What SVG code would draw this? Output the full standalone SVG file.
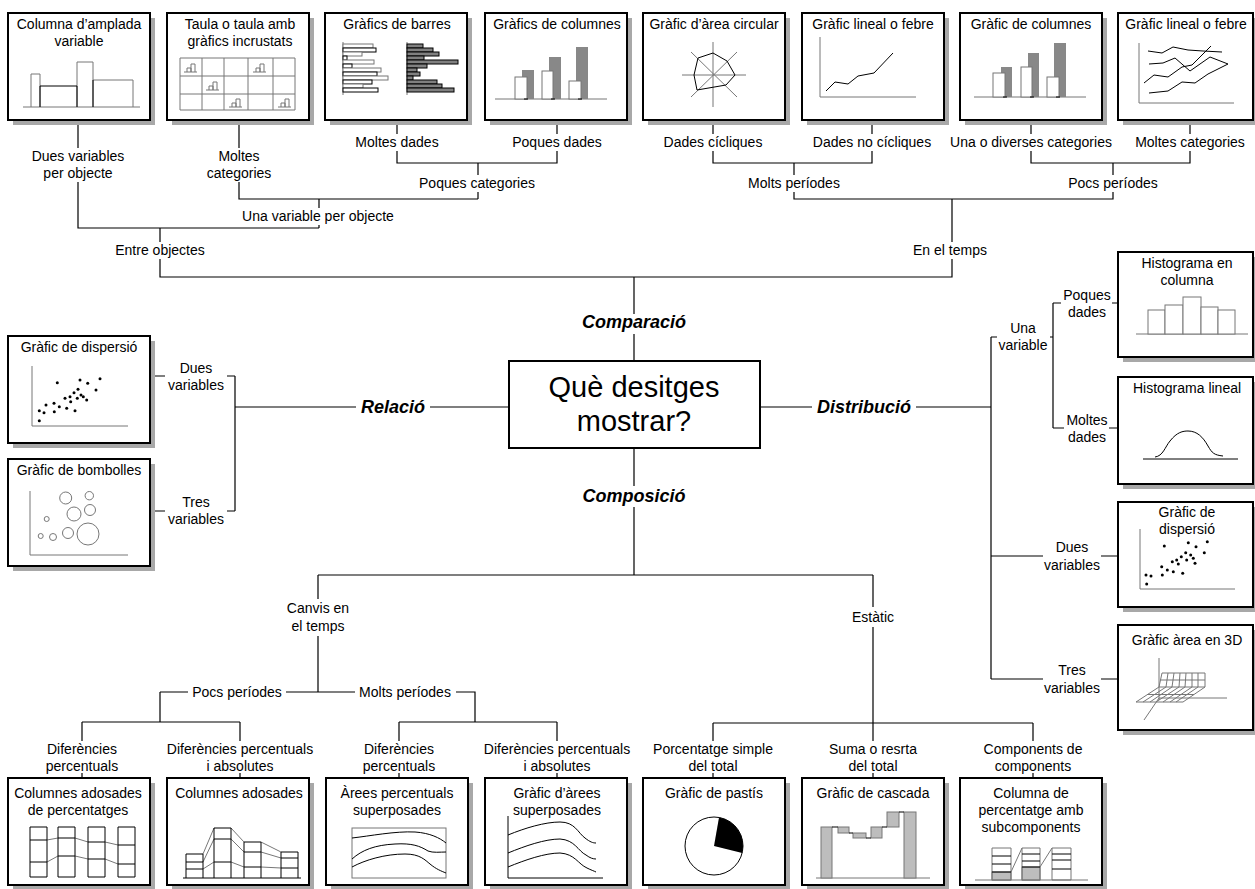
<svg xmlns="http://www.w3.org/2000/svg" width="1255" height="889" viewBox="0 0 1255 889">
<style>
text{font-family:"Liberation Sans",Arial,Helvetica,sans-serif;font-size:14px;text-anchor:middle;fill:#000}
.bi{font-weight:bold;font-style:italic;font-size:18px}
.big{font-size:29px}
.sh{fill:#a8a8a8}
.bx{fill:#fff;stroke:#000;stroke-width:2}
.c{fill:none;stroke:#000;stroke-width:1.2}
.g{fill:none;stroke:#777;stroke-width:1}
.gw{fill:#fff;stroke:#777;stroke-width:1}
.k{fill:none;stroke:#000;stroke-width:1}
.kw{fill:#fff;stroke:#000;stroke-width:1}
.dk{fill:#808080;stroke:#000;stroke-width:1}
.lg{fill:#bdbdbd;stroke:#777;stroke-width:1}
.dot{fill:#000}
</style>
<defs>
<g id="mini"><path class="g" d="M0,9 H13 M3,9 V5 H7 V9 M7,9 V1 H11 V9"/></g>
</defs>
<rect width="1255" height="889" fill="#fff"/>

<g id="connectors" class="c">
<path d="M78,121 V148 M78,182 V228 H319 M319,199 V208 M319,225 V228"/>
<path d="M239,121 V148 M239,182 V199 H478"/>
<path d="M397,121 V134 M397,151 V163 H557 V151 M557,134 V121"/>
<path d="M478,163 V175 M478,192 V199"/>
<path d="M160,228 V242 M160,259 V277 H952 V259 M952,242 V199"/>
<path d="M713,121 V134 M713,151 V163 H872 V151 M872,134 V121"/>
<path d="M794,163 V175 M794,192 V199 H1113 V192 M1113,175 V163"/>
<path d="M1031,121 V134 M1031,151 V163 H1190 V151 M1190,134 V121"/>
<path d="M634,277 V314 M634,334 V361"/>
<path d="M634,448 V486 M634,507 V575 M318,575 H873"/>
<path d="M509,407 H430 M356,407 H235 M235,376 V511 M151,376 H165 M227,376 H235 M151,511 H165 M227,511 H235"/>
<path d="M760,407 H812 M916,407 H991 M991,337 V679 M991,337 H997 M1050,337 H1053 M1053,303 V428 M1053,303 H1061 M1112,303 H1118 M1053,428 H1064 M1109,428 H1118 M991,556 H1043 M1101,556 H1118 M991,679 H1043 M1101,679 H1118"/>
<path d="M318,575 V599 M318,636 V692 M160,692 H188 M286,692 H355 M456,692 H475 V722 M160,692 V722 M82,722 H240 M399,722 H557"/>
<path d="M82,722 V741 M82,773 V778 M240,722 V741 M240,773 V778 M399,722 V741 M399,773 V778 M557,722 V741 M557,773 V778"/>
<path d="M873,575 V607 M873,627 V741 M873,773 V778 M713,723 H1033 M713,723 V741 M713,773 V778 M1033,723 V741 M1033,773 V778"/>
</g>

<g id="labels">
<text x="78" y="161">Dues variables</text><text x="78" y="178">per objecte</text>
<text x="239" y="161">Moltes</text><text x="239" y="178">categories</text>
<text x="397" y="147">Moltes dades</text>
<text x="557" y="147">Poques dades</text>
<text x="477" y="188">Poques categories</text>
<text x="318" y="221">Una variable per objecte</text>
<text x="160" y="255">Entre objectes</text>
<text x="713" y="147">Dades cícliques</text>
<text x="872" y="147">Dades no cícliques</text>
<text x="794" y="188">Molts períodes</text>
<text x="1031" y="147">Una o diverses categories</text>
<text x="1190" y="147">Moltes categories</text>
<text x="1113" y="188">Pocs períodes</text>
<text x="950" y="255">En el temps</text>
<text class="bi" x="634" y="328">Comparació</text>
<text class="bi" x="634" y="502">Composició</text>
<text class="bi" x="393" y="413">Relació</text>
<text class="bi" x="864" y="413">Distribució</text>
<text x="196" y="373">Dues</text><text x="196" y="390">variables</text>
<text x="196" y="507">Tres</text><text x="196" y="524">variables</text>
<text x="1023" y="333">Una</text><text x="1023" y="350">variable</text>
<text x="1087" y="300">Poques</text><text x="1087" y="317">dades</text>
<text x="1087" y="425">Moltes</text><text x="1087" y="442">dades</text>
<text x="1072" y="552">Dues</text><text x="1072" y="570">variables</text>
<text x="1072" y="675">Tres</text><text x="1072" y="693">variables</text>
<text x="318" y="613">Canvis en</text><text x="318" y="631">el temps</text>
<text x="873" y="622">Estàtic</text>
<text x="237" y="697">Pocs períodes</text>
<text x="405" y="697">Molts períodes</text>
<text x="82" y="754">Diferències</text><text x="82" y="771">percentuals</text>
<text x="240" y="754">Diferències percentuals</text><text x="240" y="771">i absolutes</text>
<text x="399" y="754">Diferències</text><text x="399" y="771">percentuals</text>
<text x="557" y="754">Diferències percentuals</text><text x="557" y="771">i absolutes</text>
<text x="713" y="754">Porcentatge simple</text><text x="713" y="771">del total</text>
<text x="873" y="754">Suma o resrta</text><text x="873" y="771">del total</text>
<text x="1033" y="754">Components de</text><text x="1033" y="771">components</text>
</g>

<g id="center">
<rect class="bx" x="509" y="361" width="251" height="87"/>
<text class="big" x="634" y="397">Què desitges</text>
<text class="big" x="634" y="431">mostrar?</text>
</g>

<g id="columna-amplada">
<rect class="sh" x="13" y="18" width="142" height="107"/><rect class="bx" x="8" y="13" width="142" height="107"/>
<text x="79" y="29">Columna d’amplada</text><text x="79" y="46">variable</text>
<path class="g" d="M23,107 H140 M31,107 V74 H40 V107 M77,107 V62 H93 V107 M93,80 H133 V107"/>
<path class="k" d="M40,86 H77 M40,86 V107 M77,86 V107 M93,80 V107"/>
</g>
<g id="taula">
<rect class="sh" x="172" y="18" width="142" height="107"/><rect class="bx" x="167" y="13" width="142" height="107"/>
<text x="240" y="29">Taula o taula amb</text><text x="240" y="46">gràfics incrustats</text>
<path class="g" d="M180,58 H295 V110 H180 Z M180,76 H295 M180,94 H295 M202,58 V110 M224,58 V110 M248,58 V110 M273,58 V110"/>
<use href="#mini" x="184" y="63"/><use href="#mini" x="253" y="63"/><use href="#mini" x="206" y="81"/><use href="#mini" x="229" y="98"/><use href="#mini" x="278" y="98"/>
</g>
<g id="barres">
<rect class="sh" x="330" y="18" width="142" height="107"/><rect class="bx" x="325" y="13" width="142" height="107"/>
<text x="397" y="29">Gràfics de barres</text>
<path class="g" d="M343,42 V95 M407,42 V95"/>
<rect class="gw" x="343" y="44" width="30" height="4"/><rect class="kw" x="343" y="48" width="33" height="4"/>
<rect class="gw" x="343" y="52" width="19" height="4"/><rect class="kw" x="343" y="56" width="4" height="4"/>
<rect class="gw" x="343" y="60" width="31" height="4"/><rect class="kw" x="343" y="64" width="9" height="4"/>
<rect class="gw" x="343" y="68" width="38" height="4"/><rect class="kw" x="343" y="72" width="34" height="4"/>
<rect class="gw" x="343" y="76" width="45" height="4"/><rect class="kw" x="343" y="80" width="29" height="4"/>
<rect class="gw" x="343" y="84" width="20" height="4"/><rect class="kw" x="343" y="88" width="35" height="4"/>
<rect class="dk" x="407" y="44" width="16" height="4"/><rect class="dk" x="407" y="48" width="26" height="4"/>
<rect class="dk" x="407" y="52" width="32" height="4"/><rect class="dk" x="407" y="56" width="17" height="4"/>
<rect class="dk" x="407" y="60" width="51" height="4"/><rect class="dk" x="407" y="64" width="20" height="4"/>
<rect class="dk" x="407" y="68" width="10" height="4"/><rect class="dk" x="407" y="72" width="13" height="4"/>
<rect class="dk" x="407" y="76" width="6" height="4"/><rect class="dk" x="407" y="80" width="30" height="4"/>
<rect class="dk" x="407" y="84" width="35" height="4"/><rect class="dk" x="407" y="88" width="47" height="4"/>
</g>
<g id="columnes1">
<rect class="sh" x="490" y="18" width="142" height="107"/><rect class="bx" x="485" y="13" width="142" height="107"/>
<text x="557" y="29">Gràfics de columnes</text>
<path class="g" d="M495,99 H607"/>
<rect x="522" y="70" width="12" height="29" fill="#888"/><rect class="gw" x="515" y="77" width="12" height="22"/>
<rect x="549" y="57" width="12" height="42" fill="#888"/><rect class="gw" x="542" y="71" width="11" height="28"/>
<rect x="576" y="47" width="12" height="52" fill="#888"/><rect class="gw" x="569" y="81" width="12" height="18"/>
<path class="k" d="M524,99 H528 M551,99 H555 M578,99 H582"/>
</g>
<g id="area-circular">
<rect class="sh" x="648" y="18" width="142" height="107"/><rect class="bx" x="643" y="13" width="142" height="107"/>
<text x="714" y="29">Gràfic d’àrea circular</text>
<path class="g" d="M713,42 V107 M682,75 H746 M691,52 L737,97 M737,52 L691,97"/>
<path class="k" d="M713,53 L727,61 L735,75 L726,85 L697,90 L694,75 L698,58 Z"/>
</g>
<g id="lineal1">
<rect class="sh" x="807" y="18" width="142" height="107"/><rect class="bx" x="802" y="13" width="142" height="107"/>
<text x="873" y="29">Gràfic lineal o febre</text>
<path class="g" d="M820,37 V97 H916"/>
<path class="k" d="M826,91 L835,82 L848,84 L858,76 L874,73 L893,53"/>
</g>
<g id="columnes2">
<rect class="sh" x="965" y="18" width="142" height="107"/><rect class="bx" x="960" y="13" width="142" height="107"/>
<text x="1031" y="29">Gràfic de columnes</text>
<path class="g" d="M974,97 H1086"/>
<rect x="1001" y="67" width="11" height="30" fill="#888"/><rect class="gw" x="993" y="73" width="12" height="24"/>
<rect x="1028" y="53" width="11" height="44" fill="#888"/><rect class="gw" x="1021" y="67" width="11" height="30"/>
<rect x="1054" y="43" width="12" height="54" fill="#888"/><rect class="gw" x="1047" y="77" width="12" height="20"/>
<path class="k" d="M1003,97 H1007 M1030,97 H1034 M1056,97 H1060"/>
</g>
<g id="lineal2">
<rect class="sh" x="1123" y="18" width="135" height="107"/><rect class="bx" x="1118" y="13" width="135" height="107"/>
<text x="1186" y="29">Gràfic lineal o febre</text>
<path class="g" d="M1139,43 V103 H1234"/>
<path class="k" d="M1148,51 L1162,53 L1173,47 L1188,50 L1203,51 L1222,52 M1149,64 L1163,63 L1175,58 L1190,71 L1210,57 L1228,64 M1144,83 L1154,75 L1168,77 L1182,67 L1192,65 L1211,46 M1149,93 L1168,91 L1182,82 L1195,83 L1208,74 L1228,64"/>
</g>

<g id="dispersio1">
<rect class="sh" x="13" y="341" width="142" height="107"/><rect class="bx" x="8" y="336" width="142" height="107"/>
<text x="79" y="352">Gràfic de dispersió</text>
<path class="g" d="M32,366 V426 H128"/>
<g class="dot">
<circle cx="39.3" cy="420.7" r="1.5"/><circle cx="39.3" cy="410.7" r="1.5"/><circle cx="44" cy="412.7" r="1.5"/><circle cx="46" cy="405" r="1.5"/>
<circle cx="54" cy="403.3" r="1.5"/><circle cx="54.3" cy="411.7" r="1.5"/><circle cx="59.3" cy="406.7" r="1.5"/><circle cx="57.3" cy="382.7" r="1.5"/>
<circle cx="66.7" cy="408.3" r="1.5"/><circle cx="65" cy="398.3" r="1.5"/><circle cx="70" cy="396.7" r="1.5"/><circle cx="70.7" cy="401.7" r="1.5"/>
<circle cx="74" cy="392.7" r="1.5"/><circle cx="75" cy="410.7" r="1.5"/><circle cx="78" cy="389.3" r="1.5"/><circle cx="77.3" cy="398.3" r="1.5"/>
<circle cx="80" cy="380" r="1.5"/><circle cx="81" cy="395" r="1.5"/><circle cx="83.3" cy="396.7" r="1.5"/><circle cx="86.7" cy="400" r="1.5"/>
<circle cx="87.7" cy="383.3" r="1.5"/><circle cx="96" cy="390" r="1.5"/><circle cx="100" cy="378.7" r="1.5"/>
</g>
</g>
<g id="bombolles">
<rect class="sh" x="13" y="464" width="142" height="107"/><rect class="bx" x="8" y="459" width="142" height="107"/>
<text x="79" y="475">Gràfic de bombolles</text>
<path class="g" d="M30,491 V555 H128"/>
<g class="g">
<circle cx="65.7" cy="498" r="6"/><circle cx="89.3" cy="495.7" r="4.2"/><circle cx="74" cy="514" r="7"/><circle cx="90" cy="510" r="5.5"/>
<circle cx="46.7" cy="519" r="2.5"/><circle cx="40.7" cy="536" r="2.5"/><circle cx="53" cy="537" r="3.5"/><circle cx="68" cy="533" r="5.5"/><circle cx="88" cy="534" r="11"/>
</g>
</g>

<g id="histograma-columna">
<rect class="sh" x="1123" y="257" width="135" height="105"/><rect class="bx" x="1118" y="252" width="135" height="105"/>
<text x="1187" y="268">Histograma en</text><text x="1187" y="285">columna</text>
<path class="g" d="M1136,334 H1248"/>
<rect class="gw" x="1148" y="310" width="17" height="24"/><rect class="gw" x="1165" y="305" width="18" height="29"/>
<rect class="gw" x="1183" y="297" width="18" height="37"/><rect class="gw" x="1201" y="307" width="17" height="27"/>
<rect class="gw" x="1218" y="310" width="17" height="24"/>
</g>
<g id="histograma-lineal">
<rect class="sh" x="1123" y="382" width="135" height="107"/><rect class="bx" x="1118" y="377" width="135" height="107"/>
<text x="1187" y="393">Histograma lineal</text>
<path class="k" d="M1143,459 H1238 M1155,457 C1163,456 1165,447 1170,441 C1177,432 1183,431 1188,431 C1197,431 1203,437 1208,446 C1212,453 1214,455 1223,456"/>
</g>
<g id="dispersio2">
<rect class="sh" x="1123" y="507" width="135" height="105"/><rect class="bx" x="1118" y="502" width="135" height="105"/>
<text x="1187" y="517">Gràfic de</text><text x="1187" y="534">dispersió</text>
<path class="g" d="M1140,529 V589 H1235"/>
<g class="dot">
<circle cx="1146.7" cy="584" r="1.5"/><circle cx="1146" cy="575" r="1.5"/><circle cx="1151" cy="576" r="1.5"/><circle cx="1161.7" cy="566.7" r="1.5"/>
<circle cx="1162.3" cy="575" r="1.5"/><circle cx="1167.3" cy="570" r="1.5"/><circle cx="1173.3" cy="571.7" r="1.5"/><circle cx="1164.3" cy="546" r="1.5"/>
<circle cx="1172.3" cy="561.7" r="1.5"/><circle cx="1176.7" cy="560" r="1.5"/><circle cx="1178.3" cy="564" r="1.5"/><circle cx="1181.3" cy="556.7" r="1.5"/>
<circle cx="1182.7" cy="573.3" r="1.5"/><circle cx="1185.7" cy="552.7" r="1.5"/><circle cx="1186.7" cy="560" r="1.5"/><circle cx="1188.3" cy="542.7" r="1.5"/>
<circle cx="1190.7" cy="555" r="1.5"/><circle cx="1193.3" cy="558.3" r="1.5"/><circle cx="1195" cy="563.3" r="1.5"/><circle cx="1196" cy="546.7" r="1.5"/>
<circle cx="1204.3" cy="552.7" r="1.5"/><circle cx="1207.3" cy="541.7" r="1.5"/>
</g>
</g>
<g id="area-3d">
<rect class="sh" x="1123" y="630" width="135" height="105"/><rect class="bx" x="1118" y="625" width="135" height="105"/>
<text x="1187" y="645">Gràfic àrea en 3D</text>
<path class="g" d="M1159,658 V700 M1159,698 H1227 M1159,698 L1144,720"/>
<path class="g" d="M1136,702 L1159,687 L1205,687 L1183,702 Z M1159,687 L1162,673 H1205 V687 M1147.5,694.5 H1194 M1160.5,680 H1205 M1143,702 L1166,687 M1150,702 L1172,687 M1156,702 L1179,687 M1163,702 L1185,687 M1170,702 L1192,687 M1176,702 L1198,687 M1168,673 L1166,687 M1174,673 L1172,687 M1180,673 L1179,687 M1186,673 L1185,687 M1192,673 L1192,687 M1198,673 L1198,687"/>
</g>

<g id="columnes-percentatges">
<rect class="sh" x="13" y="783" width="142" height="107"/><rect class="bx" x="8" y="778" width="142" height="107"/>
<text x="78" y="798">Columnes adosades</text><text x="78" y="815">de percentatges</text>
<path class="g" d="M47,840 L58,838 M47,862 L58,856 M75,838 L88,842 M75,856 L88,859 M105,842 L118,845 M105,859 L118,864"/>
<path class="k" d="M30,827 H47 V877 H30 Z M30,840 H47 M30,862 H47 M58,827 H75 V877 H58 Z M58,838 H75 M58,856 H75 M88,827 H105 V877 H88 Z M88,842 H105 M88,859 H105 M118,827 H135 V877 H118 Z M118,845 H135 M118,864 H135"/>
</g>
<g id="columnes-adosades">
<rect class="sh" x="172" y="783" width="142" height="107"/><rect class="bx" x="167" y="778" width="142" height="107"/>
<text x="239" y="798">Columnes adosades</text>
<path class="g" d="M203,854 L214,828 M203,862 L214,839 M203,869 L214,862 M231,828 L244,842 M231,839 L244,852 M231,862 L244,867 M261,842 L281,852 M261,852 L281,858 M261,867 L281,868"/>
<path class="k" d="M183,878 H301 M186,878 V854 H203 V878 M186,862 H203 M186,869 H203 M214,878 V828 H231 V878 M214,839 H231 M214,862 H231 M244,878 V842 H261 V878 M244,852 H261 M244,867 H261 M281,878 V852 H298 V878 M281,858 H298 M281,868 H298"/>
</g>
<g id="arees-percentuals">
<rect class="sh" x="331" y="783" width="142" height="107"/><rect class="bx" x="326" y="778" width="142" height="107"/>
<text x="397" y="798">Àrees percentuals</text><text x="397" y="815">superposades</text>
<rect class="g" x="352" y="828" width="94" height="50"/>
<path class="k" d="M352,838 C370,836 395,831 415,832 C430,833 440,838 446,843 M352,859 C362,850 375,845 395,844 C412,843 420,846 428,851 C433,853 440,852 446,852 M352,867 C365,860 385,854 405,854 C420,854 425,860 430,864 C436,869 441,871 446,873"/>
</g>
<g id="arees-superposades">
<rect class="sh" x="490" y="783" width="142" height="107"/><rect class="bx" x="485" y="778" width="142" height="107"/>
<text x="557" y="798">Gràfic d’àrees</text><text x="557" y="815">superposades</text>
<path class="k" d="M508,816 V878 H603 M508,835 C525,828 545,822 560,822 C575,822 578,833 585,838 C590,842 593,843 596,843 M508,853 C525,846 545,839 560,839 C575,840 578,851 586,855 C590,858 593,859 596,859 M508,867 C525,860 545,853 560,853 C575,854 578,864 587,868 C591,870 594,871 596,872"/>
</g>
<g id="pastis">
<rect class="sh" x="648" y="783" width="142" height="107"/><rect class="bx" x="643" y="778" width="142" height="107"/>
<text x="714" y="798">Gràfic de pastís</text>
<circle class="k" cx="714" cy="846" r="29"/>
<path d="M714,846 L719,817.4 A29,29 0 0 1 742.2,853 Z" fill="#000"/>
</g>
<g id="cascada">
<rect class="sh" x="807" y="783" width="142" height="107"/><rect class="bx" x="802" y="778" width="142" height="107"/>
<text x="873" y="798">Gràfic de cascada</text>
<path class="g" d="M816,878 H930"/>
<rect class="lg" x="821" y="827" width="11" height="51"/><rect class="lg" x="838" y="827" width="11" height="6"/>
<rect class="lg" x="853" y="833" width="13" height="5"/><rect class="lg" x="871" y="827" width="11" height="11"/>
<rect class="lg" x="887" y="812" width="12" height="15"/><rect class="lg" x="904" y="812" width="12" height="66"/>
<path class="k" d="M832,827 H838 M849,833 H853 M866,838 H871 M882,827 H887 M899,812 H904"/>
</g>
<g id="subcomponents">
<rect class="sh" x="965" y="783" width="142" height="107"/><rect class="bx" x="960" y="778" width="142" height="107"/>
<text x="1031" y="798">Columna de</text><text x="1031" y="815">percentatge amb</text><text x="1031" y="832">subcomponents</text>
<path class="g" d="M975,880 H1088"/>
<rect class="lg" x="992" y="872" width="19" height="8"/><rect class="lg" x="1022" y="867" width="18" height="13"/>
<path class="g" d="M992,848 H1011 V880 H992 Z M1022,848 H1040 V880 H1022 Z M1052,848 H1071 V880 H1052 Z M1011,872 L1022,848 M1040,867 L1052,848"/>
<path class="k" d="M992,856 H1011 M992,864 H1011 M992,872 H1011 M1022,854 H1040 M1022,861 H1040 M1022,867 H1040 M1052,854 H1071 M1052,860 H1071 M1052,869 H1071"/>
</g>
</svg>
